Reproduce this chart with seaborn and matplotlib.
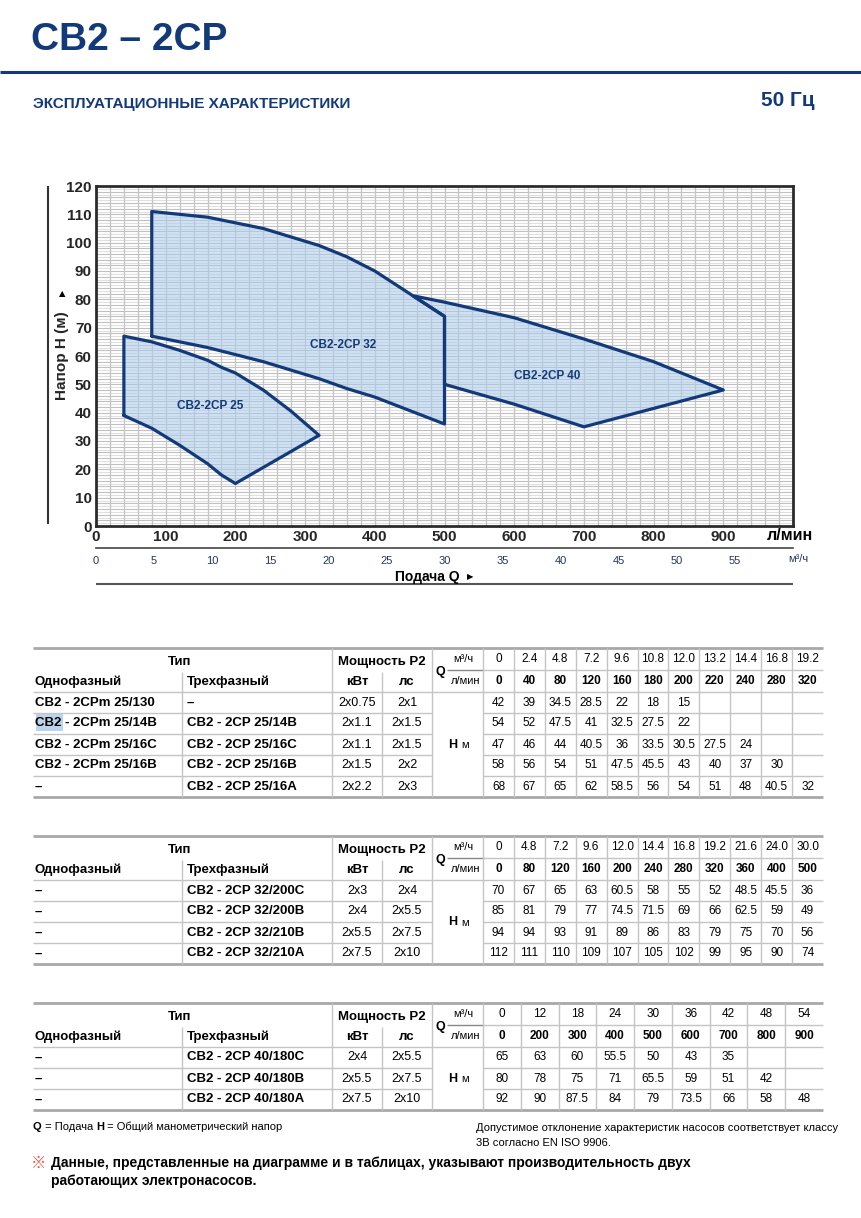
import numpy as np
import matplotlib
matplotlib.use("Agg")
import matplotlib.pyplot as plt
from matplotlib.patches import Rectangle
import seaborn as sns

# ---------------- data ----------------
# CB2-2CP 25
q25_lmin = [0, 40, 80, 120, 160, 180, 200, 220, 240, 280, 320]
q25_m3h = ["0", "2.4", "4.8", "7.2", "9.6", "10.8", "12.0", "13.2", "14.4", "16.8", "19.2"]
t25_single = ["CB2 - 2CPm 25/130", "CB2 - 2CPm 25/14B", "CB2 - 2CPm 25/16C", "CB2 - 2CPm 25/16B", "–"]
t25_three = ["–", "CB2 - 2CP 25/14B", "CB2 - 2CP 25/16C", "CB2 - 2CP 25/16B", "CB2 - 2CP 25/16A"]
t25_kw = ["2x0.75", "2x1.1", "2x1.1", "2x1.5", "2x2.2"]
t25_hp = ["2x1", "2x1.5", "2x1.5", "2x2", "2x3"]
h25_130 = [42, 39, 34.5, 28.5, 22, 18, 15]
h25_14b = [54, 52, 47.5, 41, 32.5, 27.5, 22]
h25_16c = [47, 46, 44, 40.5, 36, 33.5, 30.5, 27.5, 24]
h25_16b = [58, 56, 54, 51, 47.5, 45.5, 43, 40, 37, 30]
h25_16a = [68, 67, 65, 62, 58.5, 56, 54, 51, 48, 40.5, 32]

# CB2-2CP 32
q32_lmin = [0, 80, 120, 160, 200, 240, 280, 320, 360, 400, 500]
q32_m3h = ["0", "4.8", "7.2", "9.6", "12.0", "14.4", "16.8", "19.2", "21.6", "24.0", "30.0"]
t32_single = ["–", "–", "–", "–"]
t32_three = ["CB2 - 2CP 32/200C", "CB2 - 2CP 32/200B", "CB2 - 2CP 32/210B", "CB2 - 2CP 32/210A"]
t32_kw = ["2x3", "2x4", "2x5.5", "2x7.5"]
t32_hp = ["2x4", "2x5.5", "2x7.5", "2x10"]
h32_200c = [70, 67, 65, 63, 60.5, 58, 55, 52, 48.5, 45.5, 36]
h32_200b = [85, 81, 79, 77, 74.5, 71.5, 69, 66, 62.5, 59, 49]
h32_210b = [94, 94, 93, 91, 89, 86, 83, 79, 75, 70, 56]
h32_210a = [112, 111, 110, 109, 107, 105, 102, 99, 95, 90, 74]

# CB2-2CP 40
q40_lmin = [0, 200, 300, 400, 500, 600, 700, 800, 900]
q40_m3h = ["0", "12", "18", "24", "30", "36", "42", "48", "54"]
t40_single = ["–", "–", "–"]
t40_three = ["CB2 - 2CP 40/180C", "CB2 - 2CP 40/180B", "CB2 - 2CP 40/180A"]
t40_kw = ["2x4", "2x5.5", "2x7.5"]
t40_hp = ["2x5.5", "2x7.5", "2x10"]
h40_180c = [65, 63, 60, 55.5, 50, 43, 35]
h40_180b = [80, 78, 75, 71, 65.5, 59, 51, 42]
h40_180a = [92, 90, 87.5, 84, 79, 73.5, 66, 58, 48]

NAVY = "#123a7a"
FILL = "#a9cbea"
LINE = "#c4c4c4"
SANS = ["Liberation Sans", "DejaVu Sans"]

sns.set_style("white")
plt.rcParams["font.family"] = SANS

fig = plt.figure(figsize=(8.62, 12.18), dpi=100)
W, H = 862, 1218

# full-page pixel canvas for everything outside the plot
bg = fig.add_axes([0, 0, 1, 1], zorder=0)
bg.set_xlim(0, W)
bg.set_ylim(H, 0)
bg.axis("off")


def txt(x, y, s, size=9, weight="normal", ha="left", family=SANS, color="black", **kw):
    return bg.text(x, y, s, fontsize=size, fontweight=weight, ha=ha, va="center",
                   family=family, color=color, **kw)


def runs(x, y, parts, size):
    # pieces of one line set one after another (bold / regular)
    r = fig.canvas.get_renderer()
    for s, w in parts:
        t = txt(x, y, s, size=size, weight=w)
        x = t.get_window_extent(r).x1


def hline(x0, x1, y, color=LINE, lw=1.0):
    bg.plot([x0, x1], [y, y], color=color, lw=lw, solid_capstyle="butt")


def vline(x, y0, y1, color=LINE, lw=1.0):
    bg.plot([x, x], [y0, y1], color=color, lw=lw, solid_capstyle="butt")


# ---------------- header ----------------
txt(31, 40, "CB2 – 2CP", size=28, weight="bold", color=NAVY)
hline(0, W, 72, color=NAVY, lw=2.2)
txt(33, 104, "ЭКСПЛУАТАЦИОННЫЕ ХАРАКТЕРИСТИКИ", size=11, weight="bold", color=NAVY)
txt(815, 101, "50 Гц", size=15, weight="bold", color=NAVY, ha="right")

# ---------------- chart ----------------
ax = fig.add_axes([96 / W, (H - 526) / H, 697 / W, 340 / H], zorder=2)
ax.set_xlim(0, 1000)
ax.set_ylim(0, 120)

for yv in np.arange(1, 120, 2):
    ax.axhline(yv, color="#e0e0e0", lw=0.8, zorder=0)
for yv in np.arange(2, 120, 2):
    ax.axhline(yv, color="#c0c0c0", lw=0.8, zorder=0)
for xv in np.arange(20, 1000, 20):
    ax.axvline(xv, color=LINE, lw=0.9, zorder=0)


def outline(q, lo, hi, qmin, extra=None):
    bot = [(a, b) for a, b in zip(q, lo) if a >= qmin]
    top = [(a, b) for a, b in zip(q, hi) if a >= qmin][::-1]
    pts = bot + top + (extra or []) + [bot[0]]
    return np.array(pts, dtype=float)


# where the 32/210A top curve meets the 40/180A top curve (between 400 and 500 l/min)
qa = np.linspace(400, 500, 1001)
d = np.interp(qa, q32_lmin, h32_210a) - np.interp(qa, q40_lmin, h40_180a)
qi = qa[np.argmin(np.abs(d))]
hi_ = np.interp(qi, q40_lmin, h40_180a)

p40 = outline(q40_lmin, h40_180c, h40_180a, 500,
              extra=[(qi, hi_), (q32_lmin[-1], h32_210a[-1])])
p32 = outline(q32_lmin, h32_200c, h32_210a, 80)
p25 = outline(q25_lmin, h25_130, h25_16a, 40)

for k, p in enumerate([p40, p32, p25]):
    ax.fill(p[:, 0], p[:, 1], color=FILL, alpha=0.55, lw=0, zorder=2 + k)
    sns.lineplot(x=p[:, 0], y=p[:, 1], sort=False, estimator=None, color=NAVY,
                 lw=2.3, ax=ax, zorder=5)

for xq, yh, name in [(164, 42.5, "CB2-2CP 25"), (354, 64, "CB2-2CP 32"), (648, 53, "CB2-2CP 40")]:
    ax.text(xq, yh, name, fontsize=8.5, fontweight="bold", color=NAVY,
            ha="center", va="center", zorder=6)

ax.set_xticks(np.arange(0, 1000, 100))
ax.set_yticks(np.arange(0, 121, 10))
ax.tick_params(length=0, pad=3, labelsize=11)
for lab in ax.get_xticklabels() + ax.get_yticklabels():
    lab.set_fontweight("bold")
for s in ax.spines.values():
    s.set_color("#2b2b2b")
    s.set_linewidth(2)
ax.set_xlabel("")
ax.set_ylabel("")

# second scale in m3/h
ax2 = fig.add_axes([96 / W, (H - 548) / H, 697 / W, 0.0001], zorder=2)
ax2.set_xlim(0, 60)
ax2.set_yticks([])
for side in ["top", "left", "right"]:
    ax2.spines[side].set_visible(False)
ax2.spines["bottom"].set_color("#444444")
ax2.spines["bottom"].set_linewidth(1.2)
ax2.set_xticks(np.arange(0, 60, 5))
ax2.set_xticks(np.arange(0, 61, 1), minor=True)
ax2.tick_params(which="both", direction="out", length=5, width=1, color="#444444",
                labelsize=8, labelcolor="#22365e", pad=1)
ax2.patch.set_alpha(0)

txt(790, 536, "л/мин", size=11.5, weight="bold", ha="center")
txt(798, 559, "м³/ч", size=8, ha="center", color="#22365e")
txt(460, 577, "Подача Q", size=10, weight="bold", ha="right")
txt(470, 577, "▶", size=6, family=["DejaVu Sans"], ha="center")
hline(96, 793, 584, color="#555555", lw=1.5)

vline(48, 186, 524, color="#333333", lw=1.5)
bg.text(62, 356, "Напор H (м)", rotation=90, fontsize=11, fontweight="bold",
        ha="center", va="center")
txt(62, 294, "▲", size=6, family=["DejaVu Sans"], ha="center")


# ---------------- tables ----------------
def draw_table(top, single, three, kw, hp, m3h, lmin, heads):
    mid, hb = top + 22, top + 44
    n = len(three)
    bottom = hb + 21 * n
    edges = np.linspace(483, 823, len(lmin) + 1)

    hline(33, 823, top, color="#a8a8a8", lw=2)
    hline(33, 823, bottom, color="#a8a8a8", lw=2)
    hline(33, 823, hb)
    hline(483, 823, mid)
    hline(447, 483, mid, color="#888888")
    for i in range(1, n):
        hline(33, 432, hb + 21 * i)
        hline(483, 823, hb + 21 * i)
    vline(182, top + 24, bottom)
    vline(382, top + 24, bottom)
    vline(332, top, bottom)
    vline(432, top, bottom)
    for x in edges[:-1]:
        vline(x, top, bottom)

    txt(180, top + 14, "Тип", size=9.5, weight="bold", ha="center")
    txt(382, top + 14, "Мощность P2", size=9.5, weight="bold", ha="center")
    txt(35, hb - 10, "Однофазный", size=9.5, weight="bold")
    txt(187, hb - 10, "Трехфазный", size=9.5, weight="bold")
    txt(357, hb - 10, "кВт", size=9.5, weight="bold", ha="center")
    txt(407, hb - 10, "лс", size=9.5, weight="bold", ha="center")
    txt(436, mid + 2, "Q", size=9, weight="bold")
    txt(463, top + 11, "м³/ч", size=8, ha="center")
    txt(466, hb - 11, "л/мин", size=8, ha="center")

    centers = (edges[:-1] + edges[1:]) / 2
    for c, a, b in zip(centers, m3h, lmin):
        txt(c, top + 11, a, size=8.5, ha="center")
        txt(c, hb - 11, str(b), size=8.5, weight="bold", ha="center")

    for i in range(n):
        y = hb + 21 * i + 10.5
        txt(35, y, single[i], size=9.5, weight="bold")
        txt(187, y, three[i], size=9.5, weight="bold")
        txt(357, y, kw[i], size=9, ha="center")
        txt(407, y, hp[i], size=9, ha="center")
        for c, v in zip(centers, heads[i]):
            txt(c, y, f"{v:g}", size=8.5, ha="center")
    ym = (hb + bottom) / 2
    txt(453, ym, "H", size=9, weight="bold", ha="center")
    txt(465, ym + 1, "м", size=8, ha="center")


bg.add_patch(Rectangle((36, 714), 27, 17, color="#bcd4ee", lw=0, zorder=0))
draw_table(648, t25_single, t25_three, t25_kw, t25_hp, q25_m3h, q25_lmin,
           [h25_130, h25_14b, h25_16c, h25_16b, h25_16a])
draw_table(836, t32_single, t32_three, t32_kw, t32_hp, q32_m3h, q32_lmin,
           [h32_200c, h32_200b, h32_210b, h32_210a])
draw_table(1003, t40_single, t40_three, t40_kw, t40_hp, q40_m3h, q40_lmin,
           [h40_180c, h40_180b, h40_180a])

# ---------------- footer ----------------
runs(33, 1127, [("Q", "bold"), (" = Подача ", "normal"), ("H", "bold"),
                (" = Общий манометрический напор", "normal")], 8)
txt(476, 1128, "Допустимое отклонение характеристик насосов соответствует классу", size=8)
txt(476, 1143, "3B согласно EN ISO 9906.", size=8)
txt(31, 1163, "※", size=11, weight="bold", family=["Noto Sans CJK SC", "DejaVu Sans"], color="#e8443a")
txt(51, 1163, "Данные, представленные на диаграмме и в таблицах, указывают производительность двух",
    size=10, weight="bold")
txt(51, 1181, "работающих электронасосов.", size=10, weight="bold")

fig.savefig("out.png", dpi=100)
